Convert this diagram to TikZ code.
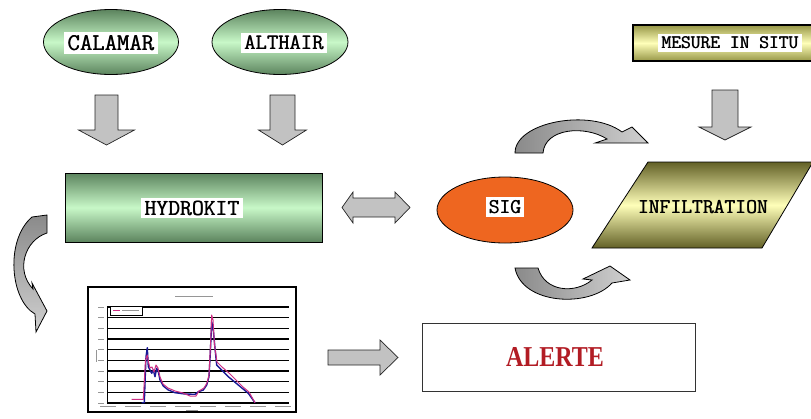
\documentclass[tikz,border=0pt]{standalone}
\usepackage{fontspec}
\setmainfont{Liberation Serif}
\usetikzlibrary{shapes.geometric}
\definecolor{gdark}{RGB}{92,132,94}
\definecolor{glight}{RGB}{200,248,200}
\definecolor{odark}{RGB}{98,96,38}
\definecolor{olight}{RGB}{255,255,185}
\definecolor{ydark}{RGB}{150,150,70}
\definecolor{sigor}{RGB}{238,102,32}
\definecolor{arrgray}{RGB}{194,194,194}
\definecolor{arrdark}{RGB}{138,138,138}
\definecolor{arrlight}{RGB}{208,208,208}
\definecolor{alertred}{RGB}{178,28,36}
\definecolor{cblue}{RGB}{25,25,150}
\definecolor{cpink}{RGB}{205,45,130}
\definecolor{tinygray}{RGB}{150,150,150}
\newcommand{\fbtxt}[1]{\rlap{#1}\kern0.5pt#1}
\newcommand{\wlbl}[1]{{\fboxsep=3pt\colorbox{white}{\fbtxt{#1}}}}
\newcommand{\downblk}[6]{\path[blockarr] ({#1-#4},#2) -- ({#1+#4},#2) -- ({#1+#4},#6) -- ({#1+#5},#6) -- (#1,#3) -- ({#1-#5},#6) -- ({#1-#4},#6) -- cycle;}
\begin{document}
\begin{tikzpicture}[x=1pt,y=-1pt,
  ell/.style={ellipse, draw=black, line width=0.8pt, inner sep=0pt},
  lbl/.style={inner sep=0pt, font=\ttfamily\fontsize{22}{24}\selectfont},
  blockarr/.style={draw=black!85, line width=0.7pt, fill=arrgray, line join=miter},
  curvarr/.style={draw=black, line width=0.8pt, line join=miter},
  gridl/.style={line width=1.1pt, black},
  tiny/.style={line width=0.6pt, tinygray},
]
\useasboundingbox (0,0) rectangle (811,418);
\clip (0,0) rectangle (811,418);

% ---------- top ellipses ----------
\node[ell, minimum width=135, minimum height=65, top color=gdark, bottom color=gdark, middle color=glight] (calamar) at (111,42) {};
\node[lbl, font=\ttfamily\fontsize{24}{26}\selectfont] (calamarT) at (111,43) {\wlbl{CALAMAR}};
\node[ell, minimum width=136, minimum height=65, top color=gdark, bottom color=gdark, middle color=glight] (althair) at (280,42) {};
\node[lbl] (althairT) at (284,43) {\wlbl{ALTHAIR}};

% ---------- mesure in situ ----------
\node[draw=black, line width=1.8pt, minimum width=182, minimum height=36, inner sep=0pt, top color=ydark, bottom color=ydark, middle color=olight] (mesure) at (724,43) {};
\node[lbl, font=\ttfamily\fontsize{19}{21}\selectfont] (mesureT) at (730,43) {\wlbl{MESURE IN SITU}};

% ---------- down arrows ----------
\downblk{106.5}{95}{145}{11.5}{28}{130}
\downblk{282.5}{95}{145}{12.5}{24}{130}
\downblk{725}{90}{140}{13}{26}{127}

% ---------- HYDROKIT ----------
\node[draw=black, line width=0.8pt, minimum width=257, minimum height=69, inner sep=0pt, top color=gdark, bottom color=gdark, middle color=glight] (hydrokit) at (193.5,207.5) {};
\node[lbl, font=\ttfamily\fontsize{23}{25}\selectfont] (hydrokitT) at (192,208) {\wlbl{HYDROKIT}};

% ---------- double arrow ----------
\path[blockarr] (342,207.5) -- (353,192) -- (353,198) -- (395,198) -- (395,192) -- (410,207.5) -- (395,223) -- (395,217) -- (353,217) -- (353,223) -- cycle;

% ---------- SIG ----------
\node[ell, minimum width=136, minimum height=66, fill=sigor] (sig) at (505,210) {};
\node[lbl, font=\ttfamily\fontsize{21}{23}\selectfont] (sigT) at (505,207) {\wlbl{SIG}};

% ---------- INFILTRATION ----------
\path[draw=black, line width=0.8pt, top color=odark, bottom color=odark, middle color=olight] (648,162) -- (813,162) -- (762,248) -- (592,248) -- cycle;
\node[lbl, font=\ttfamily\fontsize{21}{23}\selectfont] (infil) at (703,207) {\fbtxt{INFILTRATION}};

% ---------- curved arrows ----------
\path[curvarr, left color=arrdark, right color=arrlight] (515,153) .. controls (515,122) and (590,108) .. (622,132) -- (632,127) -- (648,143) -- (595,143) -- (607,139) .. controls (585,125) and (545,128) .. (543,153) -- cycle;
\path[curvarr, left color=arrdark, right color=arrlight] (515,268) -- (538,268) .. controls (545,292) and (575,294) .. (592,280) -- (583,279) -- (610,266) -- (630,280) -- (612,283) .. controls (590,308) and (522,305) .. (515,268) -- cycle;
\path[curvarr, top color=arrdark, bottom color=arrlight] (47,215) -- (47,233) .. controls (25,240) and (15,270) .. (33,289) -- (32,283) -- (47,311) -- (36,332) -- (35,314) .. controls (10,300) and (5,240) .. (32,217) -- cycle;

% ---------- chart ----------
\node[draw=black, line width=1.3pt, fill=white, minimum width=208, minimum height=125, inner sep=0pt] (chart) at (192,349.5) {};
\foreach \k in {0,...,9} {
  \draw[gridl] (107,{307+\k*10.667}) -- (289,{307+\k*10.667});
  \draw[tiny] (98,{307+\k*10.667}) -- (104,{307+\k*10.667});
}
\draw[line width=0.6pt] (107,307) -- (107,403);
\draw[line width=0.8pt, fill=white] (110,306) rectangle (142,315);
\draw[line width=1pt, cpink] (113,310) -- (120,310);
\draw[tiny] (122,310) -- (139,310);
\draw[tiny] (175,296) -- (213,296);
\draw[tiny] (96,350) -- (96,362);
\draw[tiny] (186,410) -- (198,410);
\foreach \xx in {108,133,158,183,208,233,258,283} {
  \draw[tiny] ({\xx-8},406) -- ({\xx+8},406);
}
\draw[cblue, line width=1.4pt, line join=round] (141.7,402.7) -- (144.3,402.7) -- (146,356.7) -- (147.3,347.7) -- (148.3,366.7) -- (150,370) -- (151.7,373.3) -- (153.3,370) -- (155,376.7) -- (156.7,368.3) -- (158.3,371.7) -- (160,380) -- (163.3,386) -- (168.3,390) -- (175,392.7) -- (185,394) -- (195,394.3) -- (198.3,391.7) -- (203.3,390) -- (206.7,385) -- (209,376.7) -- (210.3,353.3) -- (211.7,321.7) -- (213.3,330) -- (215,348.3) -- (216.7,365) -- (221.7,370) -- (228.3,376.7) -- (238.3,385) -- (248.3,393.3) -- (255,402.7);
\draw[cpink, line width=1pt, line join=round] (131.7,399.3) -- (143.3,399.3) -- (145.5,360) -- (147.3,355) -- (148.5,362) -- (150,368) -- (152,367) -- (154,372) -- (156,365) -- (158,368) -- (160,377) -- (163,384) -- (168,388) -- (175,391) -- (183,393) -- (190,396) -- (196,396) -- (199,391) -- (204,388) -- (207,383) -- (209,375) -- (210.5,345) -- (211.7,315) -- (213,320) -- (214.5,345) -- (217,362) -- (222,367) -- (229,373) -- (236,380) -- (243,387) -- (249,392) -- (255,402.7);

% ---------- right arrow ----------
\path[blockarr] (328,350) -- (380,350) -- (380,340) -- (398,357.5) -- (380,375) -- (380,365) -- (328,365) -- cycle;

% ---------- ALERTE ----------
\node[draw=black!80, line width=1pt, fill=white, minimum width=273, minimum height=68, inner sep=0pt] (alerte) at (558.5,357) {};
\node[inner sep=0pt, text=alertred, font=\bfseries\fontsize{24}{26}\selectfont] (alerteT) at (555,357) {\scalebox{1}[1.2]{ALERTE}};
\end{tikzpicture}
\end{document}
